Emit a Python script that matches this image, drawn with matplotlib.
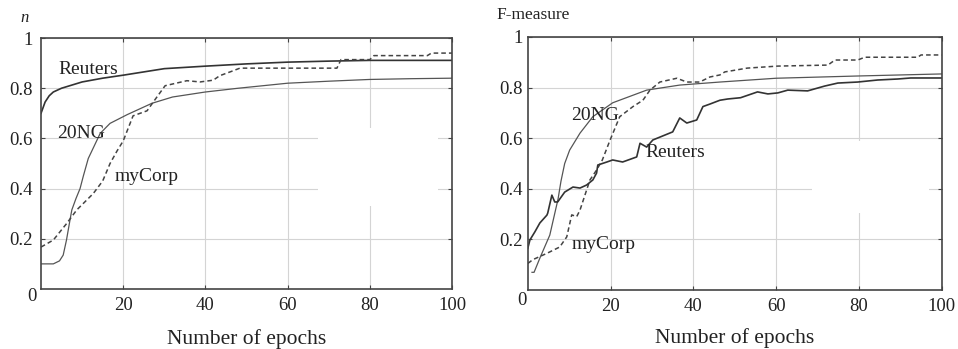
import matplotlib.pyplot as plt
from matplotlib.patches import Rectangle
from matplotlib.transforms import offset_copy

plt.rcParams['font.family'] = ['Liberation Serif', 'DejaVu Serif']

# left panel: n vs epochs
l_reuters_x = [0, 1, 2, 3, 5, 10, 15, 20, 25, 30, 40, 50, 60, 70, 80, 90, 100]
l_reuters_y = [0.70, 0.745, 0.77, 0.785, 0.80, 0.825, 0.84, 0.852, 0.865, 0.878,
               0.888, 0.897, 0.904, 0.908, 0.911, 0.911, 0.911]

l_20ng_x = [0, 3, 4.5, 5.4, 6.2, 7, 7.5, 8.5, 9.5, 10.3, 11.5, 14.4, 16.8, 21, 27,
            32, 40, 48, 60, 70, 80, 90, 100]
l_20ng_y = [0.10, 0.10, 0.112, 0.135, 0.195, 0.27, 0.315, 0.36, 0.40, 0.45, 0.52,
            0.62, 0.66, 0.695, 0.74, 0.765, 0.785, 0.80, 0.82, 0.828, 0.835, 0.838, 0.84]

l_mycorp_x = [0, 1.4, 3, 6.2, 8.7, 12.7, 15, 16.8, 18.5, 20, 22.4, 25.8, 28.2, 30.2,
              35.5, 38.7, 41.9, 43.5, 46, 48.4, 60, 72, 73, 80, 81, 94, 95, 100]
l_mycorp_y = [0.167, 0.18, 0.195, 0.26, 0.315, 0.38, 0.43, 0.50, 0.55, 0.59, 0.69,
              0.71, 0.765, 0.81, 0.83, 0.825, 0.832, 0.85, 0.865, 0.88, 0.88, 0.88,
              0.914, 0.914, 0.93, 0.93, 0.94, 0.94]

# right panel: F-measure vs epochs
r_20ng_x = [1, 1.5, 3, 5.3, 7.3, 8.0, 8.9, 10.1, 12.6, 15.7, 20.5, 28.7, 36.7, 46.4,
            60, 80, 100]
r_20ng_y = [0.07, 0.07, 0.13, 0.217, 0.36, 0.43, 0.50, 0.553, 0.62, 0.685, 0.74, 0.79,
            0.81, 0.822, 0.837, 0.846, 0.854]

r_mycorp_x = [0, 1.2, 4.6, 7.7, 9.4, 10.6, 11.8, 12.6, 15, 16.6, 18, 19.8, 22.2, 25.4,
              27.8, 29.5, 31.9, 36, 38.4, 41.5, 44, 46.4, 47.6, 53, 60.4, 72.5, 74.2,
              79.7, 81.4, 94.2, 95, 100]
r_mycorp_y = [0.105, 0.12, 0.145, 0.17, 0.21, 0.297, 0.29, 0.316, 0.435, 0.474, 0.514,
              0.59, 0.685, 0.725, 0.75, 0.79, 0.822, 0.837, 0.822, 0.822, 0.842, 0.85,
              0.862, 0.877, 0.885, 0.889, 0.909, 0.909, 0.92, 0.92, 0.929, 0.929]

r_reuters_x = [0, 0.5, 1.7, 2.9, 4.6, 4.8, 5.8, 6.5, 7.2, 8.9, 10.9, 12.6, 14.2, 15.7,
               16.6, 16.9, 19.1, 20.5, 22.9, 26.3, 27.1, 28.7, 30.2, 35, 36.7, 38.4,
               40.8, 42.3, 44, 46.4, 48.3, 51.4, 55.5, 58, 60.4, 62.8, 67.6, 71.7,
               74.9, 79.7, 84.5, 89.4, 92.5, 100]
r_reuters_y = [0.166, 0.198, 0.23, 0.265, 0.296, 0.304, 0.375, 0.348, 0.348, 0.387,
               0.407, 0.403, 0.415, 0.435, 0.462, 0.494, 0.506, 0.514, 0.506, 0.526,
               0.58, 0.565, 0.593, 0.625, 0.68, 0.66, 0.672, 0.725, 0.735, 0.75,
               0.755, 0.76, 0.783, 0.775, 0.779, 0.79, 0.787, 0.806, 0.818, 0.822,
               0.83, 0.834, 0.838, 0.838]

x_ticks = [20, 40, 60, 80, 100]
y_ticks = [0.2, 0.4, 0.6, 0.8, 1.0]
y_labels = ['0.2', '0.4', '0.6', '0.8', '1']

txt = '#222222'
fig = plt.figure(figsize=(9.58, 3.49), dpi=100)
ax1 = fig.add_axes([0.0428, 0.172, 0.429, 0.719])
ax2 = fig.add_axes([0.551, 0.169, 0.432, 0.725])


def style(ax, mask, ypad, zero_off, xpad):
    ax.set_xlim(0, 100)
    ax.set_ylim(0, 1)
    ax.set_xticks(x_ticks)
    ax.set_yticks(y_ticks)
    ax.set_yticklabels(y_labels)
    ax.set_axisbelow(True)
    ax.grid(True, color='#d4d4d4', linewidth=0.8)
    ax.tick_params(direction='in', length=3, width=0.8, top=True, right=True,
                   labelsize=13.5, colors='#444444', labelcolor=txt)
    ax.tick_params(axis='x', pad=6)
    ax.tick_params(axis='y', pad=ypad)
    for s in ax.spines.values():
        s.set_color('#444444')
        s.set_linewidth(1.2)
    # white area that hides part of the grid, as in the original
    ax.add_patch(Rectangle((mask[0], mask[1]), mask[2], mask[3], facecolor='white',
                           edgecolor='none', zorder=1))
    tr = offset_copy(ax.transAxes, fig=fig, x=zero_off[0], y=zero_off[1], units='dots')
    ax.text(0, 0, '0', transform=tr, ha='center', va='center', fontsize=13.5, color=txt)
    ax.set_xlabel('Number of epochs', fontsize=15.5, color=txt, labelpad=xpad)


style(ax1, (67.4, 0.33, 29.2, 0.31), 6, (-9, -8), 11)
style(ax2, (68.6, 0.305, 28.4, 0.285), 4, (-6, -10), 9)

ax1.plot(l_reuters_x, l_reuters_y, color='#333333', lw=1.2)
ax1.plot(l_20ng_x, l_20ng_y, color='#555555', lw=0.9)
ax1.plot(l_mycorp_x, l_mycorp_y, color='#444444', lw=1.1, dashes=(3, 2))
ax1.text(4.3, 0.875, 'Reuters', fontsize=14, color=txt, va='center')
ax1.text(3.9, 0.62, '20NG', fontsize=14, color=txt, va='center')
ax1.text(18, 0.45, 'myCorp', fontsize=14, color=txt, va='center')
ax1.text(-0.05, 1.08, 'n', transform=ax1.transAxes, fontsize=12, style='italic',
         color=txt, va='center')

ax2.plot(r_20ng_x, r_20ng_y, color='#555555', lw=0.9)
ax2.plot(r_mycorp_x, r_mycorp_y, color='#444444', lw=1.1, dashes=(3, 2))
ax2.plot(r_reuters_x, r_reuters_y, color='#333333', lw=1.2)
ax2.text(10.5, 0.69, '20NG', fontsize=14, color=txt, va='center')
ax2.text(28.5, 0.545, 'Reuters', fontsize=14, color=txt, va='center')
ax2.text(10.5, 0.18, 'myCorp', fontsize=14, color=txt, va='center')
ax2.text(-0.075, 1.087, 'F-measure', transform=ax2.transAxes, fontsize=12.5,
         color=txt, va='center')

fig.savefig('out.png', dpi=100)
